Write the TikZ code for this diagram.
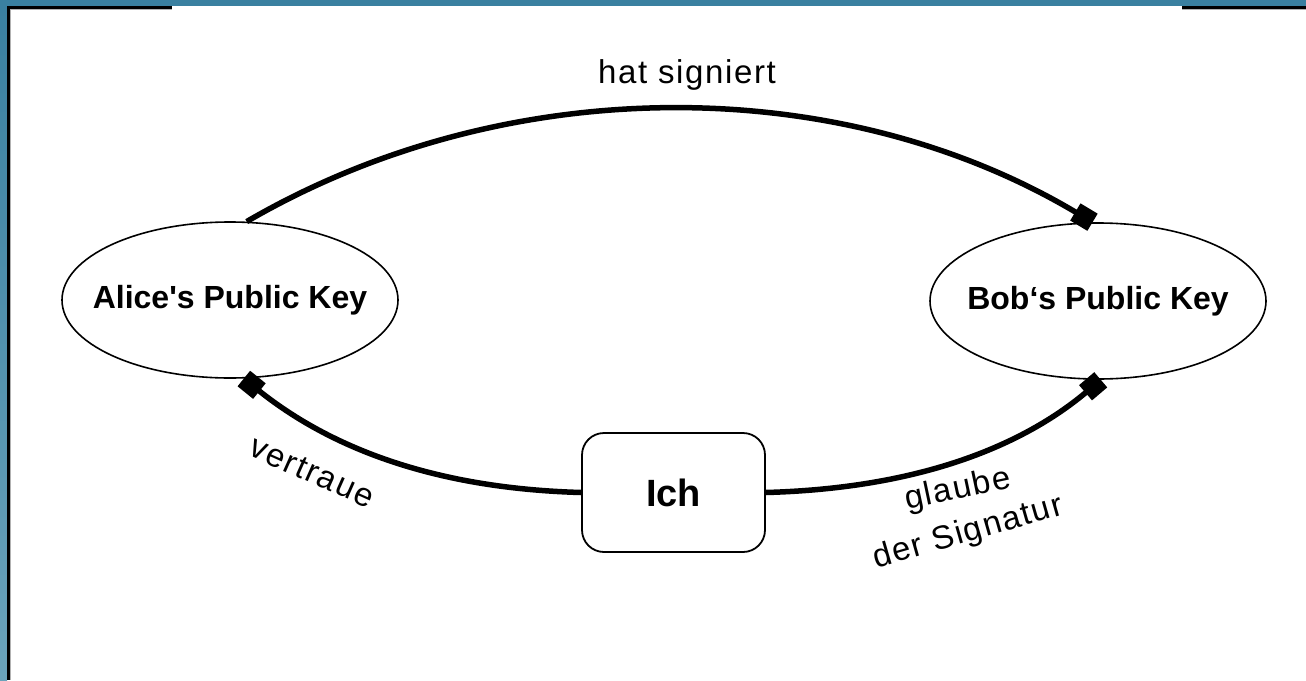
\documentclass[tikz,border=0pt]{standalone}
\usepackage{fontspec}
\setmainfont{Liberation Sans}
\usetikzlibrary{shapes.geometric,arrows.meta}

\definecolor{frameblue}{HTML}{3A80A0}
\definecolor{frameblueb}{HTML}{6AA3BB}

% ellipse size is set by the style, not by the width of the text
\newcommand{\keytext}[1]{\makebox[0pt]{#1}}

\tikzset{
  keynode/.style={ellipse, draw, line width=1.6pt, minimum width=336, minimum height=156,
    inner sep=0pt, font=\fontsize{32}{36}\selectfont\bfseries},
  mebox/.style={draw, line width=1.8pt, rounded corners=22, minimum width=183,
    minimum height=119, inner sep=0pt, font=\fontsize{38}{42}\selectfont\bfseries},
  relation/.style={line width=5.5pt, -{Square[length=20pt,width=20pt]}},
  rellabel/.style={font=\fontsize{33}{38}\selectfont\addfontfeature{LetterSpace=5},
    inner sep=0pt},
}

\begin{document}
\begin{tikzpicture}[x=1pt,y=-1pt]
  \useasboundingbox (0,0) rectangle (1306,680);
  % window frame
  \fill[white] (0,0) rectangle (1306,680);
  \fill[frameblue] (0,0) rectangle (1306,6);
  \shade[top color=frameblue, bottom color=frameblueb] (0,6) rectangle (7,680);
  \fill[black] (7,6) rectangle (172,8.5);
  \fill[black] (1182,6) rectangle (1306,8.5);
  \fill[black] (7,6) rectangle (9.5,680);
  \fill[gray!60] (9.5,8.5) rectangle (10.5,680);
  \fill[gray!60] (9.5,8.5) rectangle (172,9.5);
  \fill[gray!60] (1182,8.5) rectangle (1306,9.5);

  % keys and the trusting party
  \node[keynode] (alice) at (230,300) {\keytext{Alice\textquotesingle s Public Key}};
  \node[keynode] (bob) at (1098,301) {\keytext{Bob‘s Public Key}};
  \node[mebox] (ich) at (673.5,492.5) {Ich};

  % relations
  \draw[relation] (alice.78) .. controls (505,71) and (840,71) .. (bob.94);
  \draw[relation] (ich.west) .. controls (420,488) and (320,440) .. (alice.-80);
  \draw[relation] (ich.east) .. controls (930,488) and (1030,440) .. (bob.-88);

  % labels
  \node[rellabel] (lsig) at (687,75) {hat signiert};
  \node[rellabel, rotate=-24] (ltrust) at (312,472) {vertraue};
  \node[rellabel, rotate=12] (lbel1) at (958,490) {glaube};
  \node[rellabel, rotate=16] (lbel2) at (968,533) {der Signatur};
\end{tikzpicture}
\end{document}
